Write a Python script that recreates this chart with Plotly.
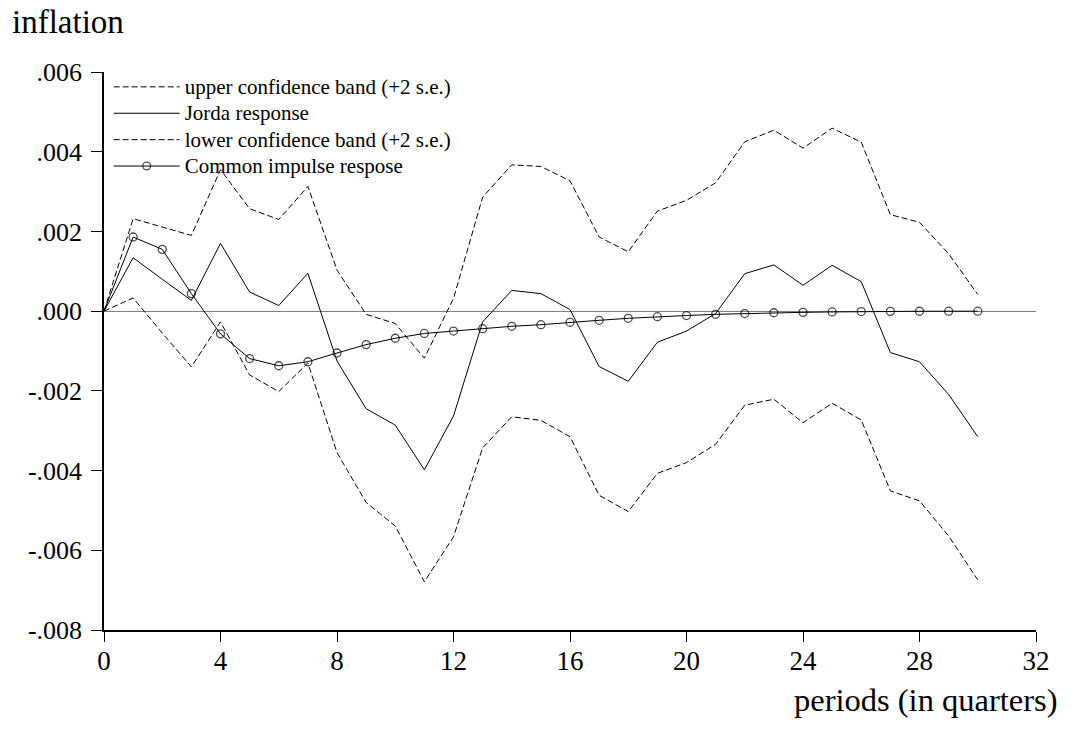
import plotly.graph_objects as go

# Quarters after the shock
periods = list(range(0, 31))

upper_band = [0.0, 2.32e-3, 2.11e-3, 1.90e-3, 3.55e-3, 2.57e-3, 2.30e-3, 3.13e-3, 1.03e-3, -0.08e-3,
              -0.31e-3, -1.18e-3, 0.32e-3, 2.86e-3, 3.67e-3, 3.63e-3, 3.27e-3, 1.86e-3, 1.49e-3, 2.51e-3,
              2.78e-3, 3.22e-3, 4.25e-3, 4.54e-3, 4.09e-3, 4.59e-3, 4.24e-3, 2.42e-3, 2.23e-3, 1.44e-3,
              0.42e-3]

jorda = [0.0, 1.34e-3, 0.80e-3, 0.27e-3, 1.70e-3, 0.48e-3, 0.14e-3, 0.95e-3, -1.25e-3, -2.45e-3,
         -2.86e-3, -3.98e-3, -2.63e-3, -0.27e-3, 0.52e-3, 0.44e-3, 0.04e-3, -1.39e-3, -1.76e-3, -0.78e-3,
         -0.50e-3, -0.06e-3, 0.94e-3, 1.16e-3, 0.65e-3, 1.15e-3, 0.74e-3, -1.04e-3, -1.27e-3, -2.09e-3,
         -3.15e-3]

lower_band = [0.0, 0.33e-3, -0.55e-3, -1.40e-3, -0.27e-3, -1.60e-3, -2.02e-3, -1.30e-3, -3.55e-3, -4.80e-3,
              -5.39e-3, -6.79e-3, -5.66e-3, -3.43e-3, -2.65e-3, -2.74e-3, -3.15e-3, -4.62e-3, -5.03e-3, -4.07e-3,
              -3.80e-3, -3.34e-3, -2.36e-3, -2.21e-3, -2.80e-3, -2.31e-3, -2.73e-3, -4.51e-3, -4.76e-3, -5.64e-3,
              -6.74e-3]

common = [0.0, 1.86e-3, 1.55e-3, 0.44e-3, -0.57e-3, -1.19e-3, -1.37e-3, -1.27e-3, -1.05e-3, -0.84e-3,
          -0.68e-3, -0.56e-3, -0.50e-3, -0.44e-3, -0.38e-3, -0.34e-3, -0.28e-3, -0.23e-3, -0.18e-3, -0.14e-3,
          -0.11e-3, -0.08e-3, -0.06e-3, -0.04e-3, -0.03e-3, -0.02e-3, -0.01e-3, -0.005e-3, -0.003e-3, -0.002e-3,
          -0.001e-3]

x_ticks = [0, 4, 8, 12, 16, 20, 24, 28, 32]
y_ticks = [0.006, 0.004, 0.002, 0.0, -0.002, -0.004, -0.006, -0.008]
y_tick_labels = [".006", ".004", ".002", ".000", "-.002", "-.004", "-.006", "-.008"]

FONT = "Liberation Serif"
DASH = "6px,3px"
PLOT_W, PLOT_H = 932, 558


def legend_label(text):
    # legend rows are spaced by the legend font size; the label itself is set a bit larger
    return f'<span style="font-size:21px">{text}</span>'


fig = go.Figure()
fig.add_trace(go.Scatter(x=periods, y=upper_band, mode="lines",
                         name=legend_label("upper confidence band (+2 s.e.)"),
                         line=dict(color="black", width=1, dash=DASH)))
fig.add_trace(go.Scatter(x=periods, y=jorda, mode="lines",
                         name=legend_label("Jorda response"),
                         line=dict(color="black", width=1)))
fig.add_trace(go.Scatter(x=periods, y=lower_band, mode="lines",
                         name=legend_label("lower confidence band (+2 s.e.)"),
                         line=dict(color="black", width=1, dash=DASH)))
fig.add_trace(go.Scatter(x=periods, y=common, mode="lines+markers",
                         name=legend_label("Common impulse respose"),
                         line=dict(color="black", width=1),
                         marker=dict(symbol="circle-open", color="black",
                                     size=[0] + [8] * (len(periods) - 1),
                                     line=dict(width=1.3, color="black"))))

fig.update_layout(
    width=1071, height=734,
    margin=dict(l=104, r=35, t=72, b=104),
    paper_bgcolor="white", plot_bgcolor="white",
    font=dict(family=FONT, color="black", size=26),
    showlegend=True,
    legend=dict(x=0.005, y=1.006, xanchor="left", yanchor="top",
                bgcolor="rgba(0,0,0,0)", font=dict(family=FONT, size=18),
                tracegroupgap=0, itemwidth=66),
    xaxis=dict(range=[0, 32], tickvals=x_ticks, ticks="outside", ticklen=10,
               tickcolor="black", showline=True, linecolor="black", linewidth=1.5,
               showgrid=False, zeroline=False, ticklabelstandoff=-4, tickfont=dict(size=27)),
    yaxis=dict(range=[-0.008, 0.006], tickvals=y_ticks, ticktext=y_tick_labels,
               ticks="outside", ticklen=11, tickcolor="black",
               showline=True, linecolor="black", linewidth=1.5,
               showgrid=False, zeroline=True, zerolinecolor="#808080", zerolinewidth=1,
               ticklabelstandoff=4, tickfont=dict(size=26)),
    annotations=[
        dict(text="inflation", xref="paper", yref="paper", x=-94 / PLOT_W, y=1 + 50 / PLOT_H,
             xanchor="left", yanchor="middle", showarrow=False, font=dict(size=33)),
        dict(text="periods (in quarters)", xref="paper", yref="paper", x=1 + 24 / PLOT_W, y=-70 / PLOT_H,
             xanchor="right", yanchor="middle", showarrow=False, font=dict(size=32.5)),
    ],
)

fig.write_html("out.html")
